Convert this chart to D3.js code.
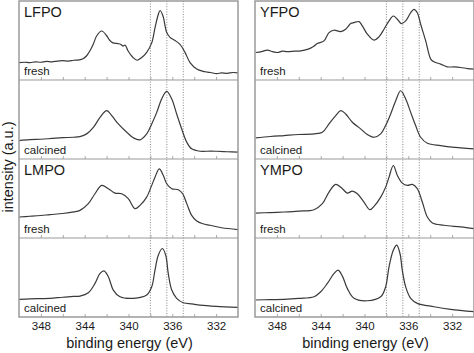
<!DOCTYPE html>
<html><head><meta charset="utf-8">
<script src="https://cdn.jsdelivr.net/npm/d3@7"></script>
<style>
html,body{margin:0;padding:0;background:#fff;}
svg text{font-family:"Liberation Sans",Arial,sans-serif;fill:#1a1a1a;}
</style></head>
<body>
<svg id="chart" width="474" height="353"></svg>
<script>
// ---- data (binding energy in eV, intensity in a.u.) ----
const tickLabels = [348, 344, 340, 336, 332];
const minorTicks = [348, 346, 344, 342, 340, 338, 336, 334, 332];
const refLines = [338, 336.5, 335];
const sampleNames = ["LFPO", "LMPO", "YFPO", "YMPO"];
const states = ["fresh", "calcined"];

const LFPO_fresh = [[350,22],[349.5,22.5],[349,22],[348.5,23],[348,22.5],[347.5,23.5],[347,23],[346.5,24],[346,24.5],[345.5,24],[345,25],[344.5,25.5],[344.15,27],[343.8,31],[343.52,37],[343.2,46],[342.9,56],[342.45,62],[341.99,56],[341.7,50],[341.42,47],[340.96,46],[340.7,45],[340.5,43],[340.3,44],[340.05,37],[339.59,28.5],[339.22,25],[338.79,28.5],[338.34,35],[337.88,47],[337.58,66],[337.3,82],[337.12,88],[336.85,81],[336.51,60],[336.21,54],[335.75,50],[335.3,45],[334.84,35],[334.38,22],[333.77,14],[333.2,11],[332.8,10],[332.5,9.5],[331.95,8],[331.5,9],[331,8.5],[330.45,9.5],[330,9]];
const LFPO_calcined = [[350,23.3],[349,24.5],[348,25],[347,26],[346,27],[345,27.5],[344.43,28.4],[343.82,31.8],[343.21,40],[342.6,52.7],[341.99,61.2],[341.53,54.9],[340.93,44.4],[340.16,33.8],[339.56,26.8],[338.95,24.2],[338.34,31.8],[337.88,44.4],[337.42,59],[336.97,76],[336.51,85.6],[336.05,76],[335.6,57],[335.14,38],[334.68,21.2],[334.23,12.9],[333.47,9.8],[332.5,10],[331.95,9.8],[331,9.2],[330,8.6]];
const LMPO_fresh = [[350,26.6],[349,27.5],[348,28.5],[347.17,29.6],[346,31],[345,33],[344.43,35],[343.67,43.5],[343.06,56],[342.45,66.6],[341.84,62.4],[341.23,56.8],[340.62,56],[340.02,49.8],[339.41,37.2],[338.95,41.3],[338.34,51.8],[337.88,66.6],[337.58,77],[337.19,87.6],[336.82,79.2],[336.51,68.7],[336.05,62.4],[335.45,61.1],[335.05,56],[334.68,43.5],[334.23,28.7],[333.77,21.5],[333.2,18],[332.56,16.1],[331.5,13],[330,10.7]];
const LMPO_calcined = [[350,22.3],[349,23],[348,23.3],[347.17,23.6],[346,25],[345,26],[344.43,26.5],[343.67,30.7],[343.06,42.5],[342.6,55.1],[342.24,58.4],[341.84,50.9],[341.39,34.1],[340.78,25.6],[339.56,23.6],[338.34,27.8],[337.88,38.2],[337.58,59.3],[337.28,78.2],[336.91,86.7],[336.6,78.2],[336.37,55.1],[336.05,34.1],[335.6,23.6],[335,18],[334.2,16.5],[333.47,15.1],[332,13.5],[330,12.2]];
const YFPO_fresh = [[349.94,34.8],[349.4,36],[348.87,37.8],[348.4,36],[347.96,34.8],[347.5,36.5],[347.05,36],[346.4,36.5],[345.83,36.9],[345.3,38.5],[344.92,40.3],[344.6,43],[344.31,46.2],[343.7,49.5],[343.24,60],[342.79,63],[342.17,61.3],[341.72,64.3],[341.26,71.4],[340.96,72.6],[340.5,73.9],[340.2,68.5],[339.74,58],[339.13,50.4],[338.68,54.6],[338.22,64.3],[337.76,74.8],[337.37,81],[337,76.9],[336.64,71.4],[336.24,74.8],[335.78,85.2],[335.48,89.5],[335.18,85.2],[334.87,70.6],[334.41,49.5],[333.95,26.4],[333.65,23],[333.04,20.1],[332.44,16.7],[331.8,16.5],[331.22,15.8],[330.6,14.5],[330,13.8]];
const YFPO_calcined = [[349.94,26.7],[348.6,28.5],[347.35,29.7],[346,31],[344.61,31.8],[343.85,33.8],[343.24,44.4],[342.63,54.9],[342.17,61.2],[341.72,57],[341.11,46.5],[340.35,38.1],[339.74,30.9],[339.13,27.5],[338.52,31.8],[338.07,42.3],[337.61,57],[337.15,73.8],[336.7,86.4],[336.24,76],[335.78,59],[335.33,42.3],[334.87,27.5],[334.26,19.9],[333.04,17],[332,15],[331.22,14.1],[330,12.9]];
const YMPO_fresh = [[349.94,31.6],[348.6,32.2],[347.35,32.9],[346,34],[344.61,35.8],[343.85,43.5],[343.24,58.1],[342.63,67.8],[342.02,62.4],[341.57,56.8],[341.11,59.4],[340.65,56],[340.05,45.5],[339.5,35.8],[339.13,40.1],[338.52,51.8],[338.07,64.4],[337.76,77],[337.37,91.8],[337,79.2],[336.55,69.5],[336.09,66.6],[335.63,67.8],[335.18,62.4],[334.72,45.5],[334.26,26.6],[333.8,19],[332.74,16.1],[331.22,14],[330,11.9]];
const YMPO_calcined = [[349.94,21.5],[348.6,22],[347.35,22.3],[346,23.5],[344.61,25.6],[344,31.9],[343.39,42.5],[342.78,55.1],[342.41,59.3],[342.02,51.7],[341.57,36.2],[340.96,23.6],[339.74,20.6],[338.52,25.6],[338.07,38.2],[337.76,63.5],[337.37,84.5],[337.06,90.9],[336.76,80.4],[336.55,59.3],[336.24,38.2],[335.78,23.6],[335.18,17.3],[333.65,13],[332.13,9.7],[330,6.7]];

// ---- layout ----
const svg = d3.select("#chart");
const plotTop = 1, plotBottom = 317;
const subH = (plotBottom - plotTop) / 4;
const panels = [
  {x0: 19, x1: 238, samples: [["LFPO", LFPO_fresh, LFPO_calcined], ["LMPO", LMPO_fresh, LMPO_calcined]]},
  {x0: 255, x1: 474, samples: [["YFPO", YFPO_fresh, YFPO_calcined], ["YMPO", YMPO_fresh, YMPO_calcined]]}
];
const frameColor = "#9a9a9a";

panels.forEach((p, pi) => {
  const x = d3.scaleLinear().domain([350, 330]).range([p.x0, p.x1]);
  const g = svg.append("g");
  const clipId = "clip" + pi;
  svg.append("clipPath").attr("id", clipId).append("rect")
    .attr("x", p.x0).attr("y", plotTop).attr("width", p.x1 - p.x0).attr("height", plotBottom - plotTop);

  g.selectAll("line.ref").data(refLines).join("line")
    .attr("x1", d => x(d)).attr("x2", d => x(d))
    .attr("y1", plotTop).attr("y2", plotBottom)
    .attr("stroke", "#777").attr("stroke-width", 0.9).attr("stroke-dasharray", "1,1.6");

  let k = 0;
  p.samples.forEach(([name, fresh, calc]) => {
    [fresh, calc].forEach((series, si) => {
      const y0 = plotTop + k * subH, y1 = y0 + subH;
      const y = d3.scaleLinear().domain([0, 100]).range([y1, y0]);
      const ax = g.append("g").attr("transform", `translate(0,${y1})`)
        .call(d3.axisTop(x).tickValues(minorTicks).tickSize(3).tickFormat(""));
      ax.select(".domain").remove();
      ax.selectAll("line").attr("stroke", "#aaa");
      g.append("path").datum(series)
        .attr("clip-path", `url(#${clipId})`)
        .attr("fill", "none").attr("stroke", "#3a3a3a").attr("stroke-width", 1.2)
        .attr("stroke-linejoin", "round")
        .attr("d", d3.line().x(d => x(d[0])).y(d => y(d[1])).curve(d3.curveCatmullRom.alpha(0.5)));
      g.append("text").attr("x", p.x0 + 5).attr("y", y1 - 5)
        .attr("font-size", 11.5).text(states[si]);
      if (si === 0) {
        g.append("text").attr("x", p.x0 + 5).attr("y", y0 + 16)
          .attr("font-size", 14.5).text(name);
      }
      if (k < 3) {
        g.append("line").attr("x1", p.x0).attr("x2", p.x1).attr("y1", y1).attr("y2", y1)
          .attr("stroke", frameColor).attr("stroke-width", 1.2);
      }
      k++;
    });
  });

  g.append("rect").attr("x", p.x0).attr("y", plotTop).attr("width", p.x1 - p.x0).attr("height", plotBottom - plotTop)
    .attr("fill", "none").attr("stroke", frameColor).attr("stroke-width", 1.5);

  const axis = g.append("g").attr("transform", `translate(0,${plotBottom})`)
    .call(d3.axisBottom(x).tickValues(tickLabels).tickSize(0).tickPadding(5).tickFormat(d3.format("d")));
  axis.select(".domain").remove();
  axis.selectAll("text").attr("font-size", 11.5).attr("font-family", "Liberation Sans, Arial, sans-serif").attr("fill", "#1a1a1a");

  g.append("text").attr("x", (p.x0 + p.x1) / 2 + 1).attr("y", 348)
    .attr("text-anchor", "middle").attr("font-size", 14.5).text("binding energy (eV)");
});

svg.append("text").attr("transform", `translate(13,${(plotTop + plotBottom) / 2 + 8}) rotate(-90)`)
  .attr("text-anchor", "middle").attr("font-size", 14.5).text("intensity (a.u.)");
</script>
</body></html>
